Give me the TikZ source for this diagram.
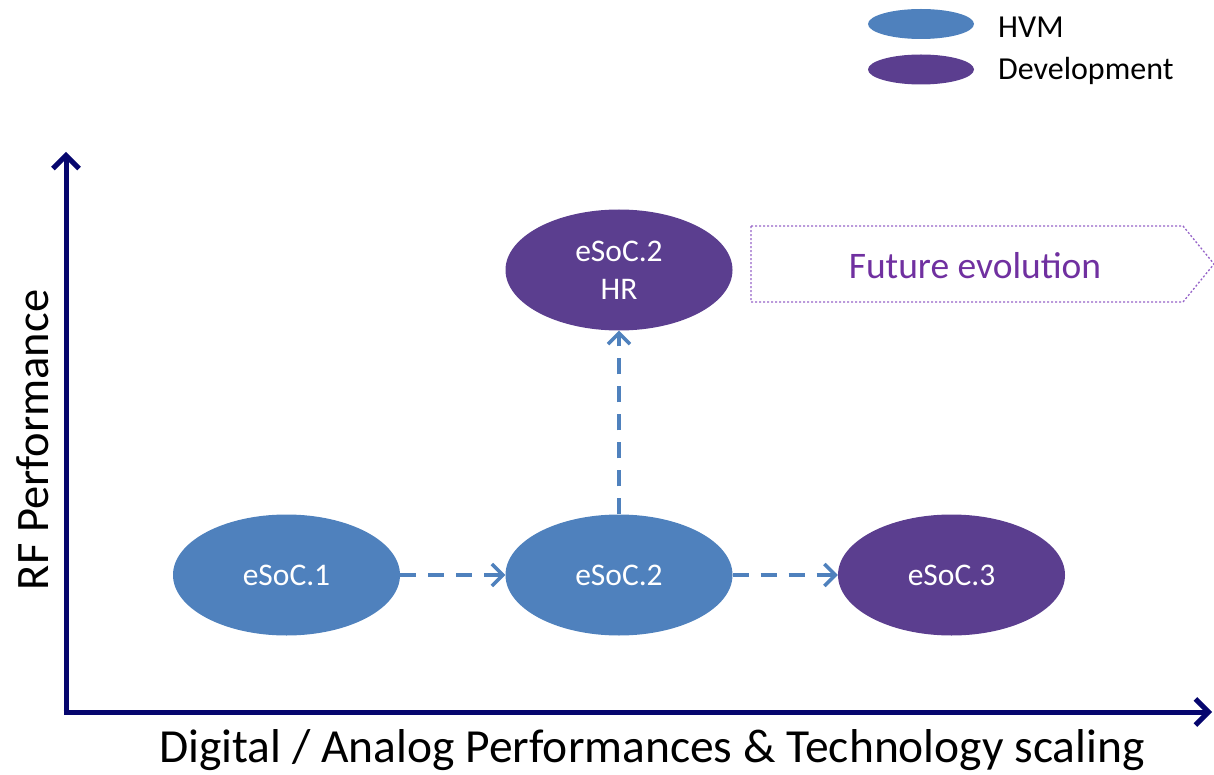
\documentclass[tikz,border=0pt]{standalone}
\usepackage{fontspec}
\setmainfont{Carlito}
\usetikzlibrary{arrows.meta,shapes.geometric}
\definecolor{hvm}{RGB}{79,129,189}
\definecolor{dev}{RGB}{91,62,143}
\definecolor{axisc}{RGB}{6,6,110}
\definecolor{futc}{RGB}{112,48,160}
\definecolor{futb}{RGB}{150,100,200}
\tikzset{
  soc/.style={ellipse, minimum width=227pt, minimum height=121pt, inner sep=0pt, text=white, font=\fontsize{31.5}{38}\selectfont, align=center},
  hvmnode/.style={soc, fill=hvm},
  devnode/.style={soc, fill=dev},
  legell/.style={ellipse, minimum width=106pt, minimum height=30pt, inner sep=0pt},
  legtext/.style={anchor=west, inner sep=0pt, font=\fontsize{32}{34}\selectfont},
  axisline/.style={draw=axisc, line width=5pt, -{Straight Barb[length=13pt, width=26pt, line width=5pt]}},
  evo/.style={draw=hvm, line width=4pt, dash pattern=on 16pt off 12pt, -{Straight Barb[length=11pt, width=22pt, line width=3.5pt]}},
}
\begin{document}
\begin{tikzpicture}[x=1pt, y=-1pt]
\useasboundingbox (0,0) rectangle (1214,775);
% legend
\node[legell, fill=hvm] (lh) at (921,24) {};
\node[legell, fill=dev] (ld) at (921,69.5) {};
\node[legtext] (lht) at (998,27) {HVM};
\node[legtext] (ldt) at (998,71) {Development};
% axes
\coordinate (org) at (66,712);
\coordinate (ytip) at (66,152);
\coordinate (xtip) at (1212,712);
\draw[axisline] ([yshift=2.5pt]org) -- (ytip);
\draw[axisline] ([xshift=-2.5pt]org) -- (xtip);
\node[rotate=90, font=\fontsize{46.5}{50}\selectfont, inner sep=0pt] (ylab) at (33,440) {RF Performance};
\node[font=\fontsize{47.5}{50}\selectfont, inner sep=0pt] (xlab) at (652,750) {Digital / Analog Performances \& Technology scaling};
% nodes
\node[hvmnode] (s1) at (286.5,575) {eSoC.1};
\node[hvmnode] (s2) at (619,575) {eSoC.2};
\node[devnode] (s3) at (951.5,575) {eSoC.3};
\node[devnode] (s2hr) at (619,270) {eSoC.2\\HR};
% arrows
\draw[evo] (s1.east) -- (s2.west);
\draw[evo] (s2.east) -- (s3.west);
\draw[evo] (s2.north) -- (s2hr.south);
% future evolution
\coordinate (f1) at (751,226);
\coordinate (f2) at (1183,226);
\coordinate (f3) at (1214,264);
\coordinate (f4) at (1183,302);
\coordinate (f5) at (751,302);
\draw[futb, line width=1.3pt, dash pattern=on 2pt off 2pt] (f1) -- (f2) -- (f3) -- (f4) -- (f5) -- cycle;
\node[text=futc, font=\fontsize{37.5}{40}\selectfont, inner sep=0pt] (fut) at (975,266) {Future evolution};
\end{tikzpicture}
\end{document}
